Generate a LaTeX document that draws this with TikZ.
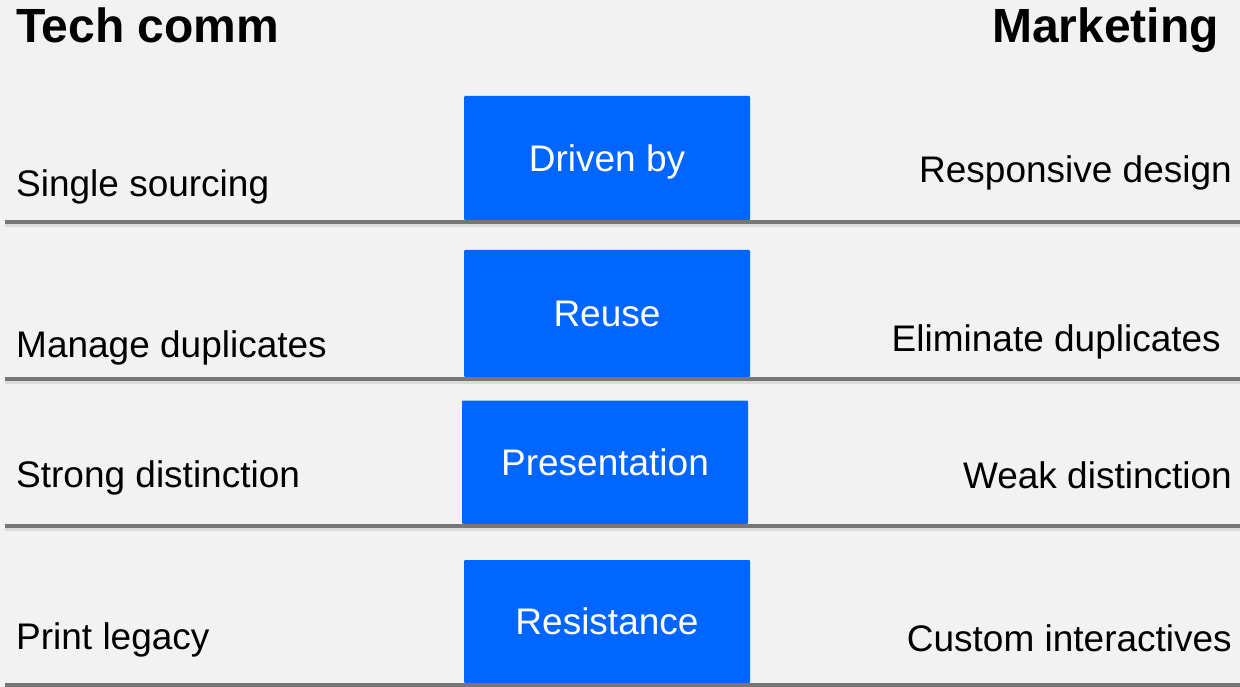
\documentclass[tikz,border=0pt]{standalone}
\usepackage{fontspec}
\setmainfont{Liberation Sans}
\definecolor{bg}{HTML}{F2F2F2}
\definecolor{boxblue}{HTML}{0066FF}
\definecolor{rulegray}{HTML}{767676}
\begin{document}
\begin{tikzpicture}[x=1pt,y=-1pt,
  lbl/.style={inner sep=0pt, font=\fontsize{37}{44}\selectfont, text=black},
  head/.style={inner sep=0pt, font=\fontsize{48}{57}\selectfont\bfseries, text=black},
  blk/.style={fill=boxblue, draw=none, rounded corners=1pt, inner sep=0pt, text=white,
    font=\fontsize{37}{44}\selectfont, text height=26.5pt, text depth=0pt, minimum width=286pt},
  seprule/.style={draw=rulegray, line width=4.5pt},
  sepshadow/.style={draw=black, opacity=0.09, line width=3.5pt}]
\fill[bg] (0,0) rectangle (1240,687);
\useasboundingbox (0,0) rectangle (1240,687);

% headings
\node[head, anchor=base west] (tc) at (16,43) {Tech comm};
\node[head, anchor=base east] (mk) at (1219,43) {Marketing};

% blue boxes
\node[blk, minimum height=124pt] (b1) at (607,158) {Driven by};
\node[blk, minimum height=127pt] (b2) at (607,313.5) {Reuse};
\node[blk, minimum height=123.3pt] (b3) at (605,462.3) {Presentation};
\node[blk, minimum height=123pt] (b4) at (607,621.5) {Resistance};

% left labels
\node[lbl, anchor=base west] (l1) at (16,197) {Single sourcing};
\node[lbl, anchor=base west] (l2) at (16,357) {Manage duplicates};
\node[lbl, anchor=base west] (l3) at (16,487) {Strong distinction};
\node[lbl, anchor=base west] (l4) at (16,649) {Print legacy};

% right labels
\node[lbl, anchor=base east] (r1) at (1232,183) {Responsive design};
\node[lbl, anchor=base east] (r2) at (1221,351) {Eliminate duplicates};
\node[lbl, anchor=base east] (r3) at (1232,488) {Weak distinction};
\node[lbl, anchor=base east] (r4) at (1232,651) {Custom interactives};

% separator rules with soft shadow
\foreach \yy in {222,379,526,685.5}{
  \draw[sepshadow] (5,\yy+3.5) -- (1240,\yy+3.5);
  \draw[seprule] (5,\yy) -- (1240,\yy);
}
\end{tikzpicture}
\end{document}
